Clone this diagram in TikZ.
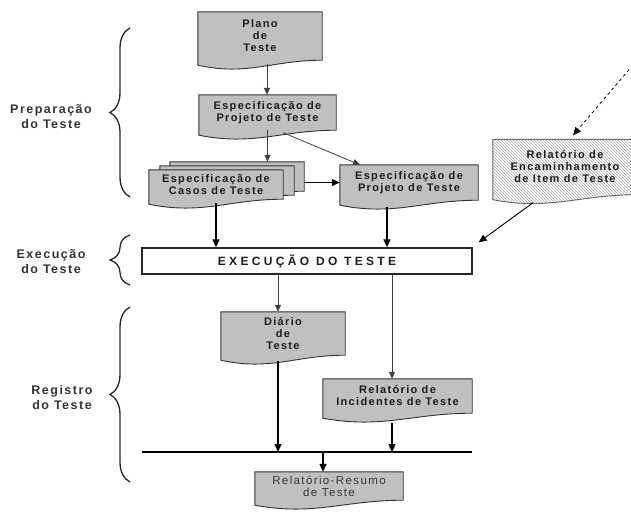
\documentclass[tikz,border=0pt]{standalone}
\usepackage{fontspec}
\setmainfont{Liberation Sans}
\newfontfamily\boxfont[LetterSpace=12]{Liberation Sans}
\newfontfamily\execfont[LetterSpace=28]{Liberation Sans}
\usetikzlibrary{arrows.meta,calc,backgrounds,patterns,decorations.pathreplacing}
\definecolor{docgray}{RGB}{192,192,192}
\definecolor{ink}{RGB}{30,30,30}
\tikzset{
  doc/.style 2 args={minimum width=#1, minimum height=#2, inner sep=0pt, align=center,
    font=\boxfont\bfseries\fontsize{11}{12}\selectfont, text=ink},
  docshape/.style={draw=black!80, line width=0.9pt, fill=docgray},
  execbox/.style={draw=black!85, line width=1.3pt, fill=white, minimum width=330pt,
    minimum height=26pt, inner sep=0pt, font=\execfont\bfseries\fontsize{12}{14}\selectfont, text=ink},
  phase/.style={align=center, font=\boxfont\bfseries\fontsize{12.5}{15}\selectfont, text=black!80},
  flow/.style={draw=black!75, line width=1pt, -{Triangle[length=7pt,width=6pt]}},
  mainflow/.style={draw=black, line width=1.4pt, -{Triangle[length=8pt,width=7pt]}},
  bracket/.style={decorate, decoration={brace, amplitude=20pt}, line width=1.3pt, draw=black!85}
}
\begin{document}
\begin{tikzpicture}[x=1pt, y=-1pt]
    \clip (0,0) rectangle (631,512);

    % documents
    \node[doc={124pt}{48pt}] (plano) at (260,36) {Plano\\de\\Teste};
    \node[doc={137pt}{35pt}] (projA) at (267.5,112.5) {Especificação de\\Projeto de Teste};
    \node[doc={134pt}{29pt}] (casos) at (216,184.5) {Especificação de\\Casos de Teste};
    \node[doc={138pt}{35pt}] (projB) at (409,182.5) {Especificação de\\Projeto de Teste};
    \node[doc={144pt}{55pt}] (relenc) at (565,167) {Relatório de\\Encaminhamento\\de Item de Teste};
    \node[execbox] (exec) at (307,261) {EXECUÇÃO DO TESTE};
    \node[doc={124pt}{43pt}] (diario) at (283,333.5) {Diário\\de\\Teste};
    \node[doc={149pt}{34pt}] (incid) at (397.5,396) {Relatório de\\Incidentes de Teste};
    \node[doc={148pt}{28pt}, font=\boxfont\fontsize{11.5}{12}\selectfont, text=black!78] (resumo) at (329,486) {Relatório-Resumo\\de Teste};

    \begin{scope}[on background layer]
    \foreach \d/\sx/\sy in {casos/21/8, casos/11/4, casos/0/0, plano/0/0, projA/0/0, projB/0/0, diario/0/0, incid/0/0, resumo/0/0}
      \draw[docshape] ([shift={(\sx,-\sy)}]\d.north west) -- ([shift={(\sx,-\sy)}]\d.north east)
        -- ([shift={(\sx,-\sy)}]\d.south east)
        .. controls ($(\d.south east)!0.4!(\d.south west)+(\sx,-\sy)$)
        and ($(\d.south east)!0.6!(\d.south west)+(\sx,-\sy)+(0,-16pt)$)
        .. ($(\d.south west)+(\sx,-\sy)+(0,-5pt)$) -- cycle;
    \draw[draw=black!60, line width=0.9pt, fill=white, pattern=north west lines, pattern color=black!35]
      (relenc.north west) -- (relenc.north east) -- (relenc.south east)
      .. controls ($(relenc.south east)!0.4!(relenc.south west)$)
      and ($(relenc.south east)!0.6!(relenc.south west)+(0,-16pt)$)
      .. ([yshift=-5pt]relenc.south west) -- cycle;
    \end{scope}

    % connectors
    \coordinate (stackT) at ([yshift=8pt]casos.north);
    \coordinate (stackR) at ([xshift=21pt]casos.east);
    \coordinate (far) at (633,65);
    \coordinate (barL) at (142,452);
    \coordinate (barR) at (472,452);
    \coordinate (pOut) at ([xshift=7pt,yshift=-4pt]plano.south);
    \coordinate (bOut) at ([xshift=-22pt,yshift=-7pt]projB.south);
    \coordinate (dOut) at ([xshift=-5pt,yshift=-6pt]diario.south);
    \coordinate (iOut) at ([xshift=-5.5pt,yshift=-10pt]incid.south);
    \coordinate (rIn) at ([xshift=-6pt]resumo.north);

    \draw[flow] (pOut) -- (pOut |- projA.north);
    \draw[flow] (projA.south) -- (projA.south |- stackT);
    \draw[flow, line width=0.8pt] ([xshift=15.5pt,yshift=-2.5pt]projA.south) -- ([xshift=-49pt]projB.north);
    \draw[mainflow] (stackR |- projB.west) -- (projB.west);
    \draw[mainflow] ([yshift=-4pt]casos.south) -- (casos.south |- exec.north);
    \draw[mainflow] (bOut) -- (bOut |- exec.north);
    \draw[dashed, line width=0.8pt, -{Triangle[length=8pt,width=7pt]}] (far) -- ([xshift=8pt,yshift=4pt]relenc.north);
    \draw[line width=0.9pt, -{Triangle[length=8pt,width=7pt]}] ([xshift=-32pt,yshift=-8pt]relenc.south) -- ([xshift=6pt,yshift=5pt]exec.north east);
    \draw[flow] ([xshift=-29pt]exec.south) -- ([xshift=-29pt]exec.south |- diario.north);
    \draw[flow] ([xshift=85pt]exec.south) -- ([xshift=85pt]exec.south |- incid.north);
    \draw[line width=1.4pt] (barL) -- (barR);
    \draw[mainflow] (dOut) -- (dOut |- barL);
    \draw[mainflow] (iOut) -- (iOut |- barL);
    \draw[mainflow] (rIn |- barL) -- (rIn);

    % phases
    \draw[bracket] (130,197) -- (130,28);
    \draw[bracket] (130,285) -- (130,235);
    \draw[bracket] (130,482) -- (130,307);
    \node[phase] (prep) at (51,117) {Preparação\\do Teste};
    \node[phase] (exe) at (51,262) {Execução\\do Teste};
    \node[phase] (reg) at (62,398) {Registro\\do Teste};
\end{tikzpicture}
\end{document}
